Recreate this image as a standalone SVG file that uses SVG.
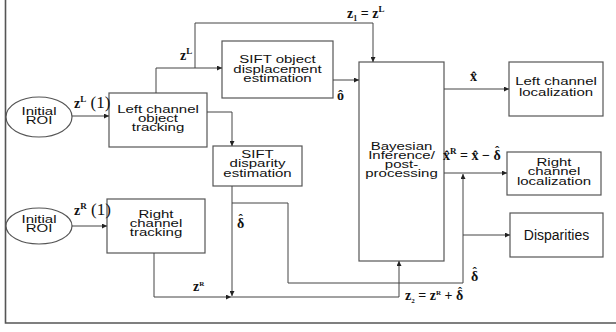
<svg xmlns="http://www.w3.org/2000/svg" width="616" height="332" viewBox="0 0 616 332">
<style>
.box{fill:#fff;stroke:#555;stroke-width:1.2}
.t{font-family:"Liberation Sans",Arial,sans-serif;font-size:15px;fill:#111;text-anchor:middle}
.m{font-family:"Liberation Serif","Times New Roman",serif;font-weight:bold;font-size:14px;fill:#111}
.c{fill:none;stroke:#444;stroke-width:1}
.frame{fill:none;stroke:#555;stroke-width:1.6}
</style>
<defs>
<marker id="a" viewBox="0 0 10 10" refX="10" refY="5" markerWidth="6" markerHeight="5" orient="auto" markerUnits="userSpaceOnUse">
<path d="M0,0 L10,5 L0,10 z" fill="#222"/>
</marker>
</defs>
<rect width="616" height="332" fill="#fff"/>
<path class="frame" d="M5.5,0 V323 H616"/>

<g id="roi1">
<ellipse class="box" cx="39" cy="117" rx="33" ry="20"/>
<text class="t" transform="translate(39,115) scale(1,0.78)"><tspan x="0">Initial</tspan><tspan x="0" dy="12">ROI</tspan></text>
</g>
<g id="roi2">
<ellipse class="box" cx="39" cy="226" rx="33" ry="18"/>
<text class="t" transform="translate(39,223) scale(1,0.78)"><tspan x="0">Initial</tspan><tspan x="0" dy="12">ROI</tspan></text>
</g>
<g id="leftTrack">
<rect class="box" x="109" y="93" width="98" height="54"/>
<text class="t" transform="translate(158,113) scale(1,0.78)"><tspan x="0">Left channel</tspan><tspan x="0" dy="11.8">object</tspan><tspan x="0" dy="11.8">tracking</tspan></text>
</g>
<g id="rightTrack">
<rect class="box" x="107" y="199" width="98" height="54"/>
<text class="t" transform="translate(156,218) scale(1,0.78)"><tspan x="0">Right</tspan><tspan x="0" dy="11.8">channel</tspan><tspan x="0" dy="11.8">tracking</tspan></text>
</g>
<g id="siftObj">
<rect class="box" x="222" y="41" width="111" height="57"/>
<text class="t" transform="translate(277.5,63) scale(1,0.78)"><tspan x="0">SIFT object</tspan><tspan x="0" dy="12.2">displacement</tspan><tspan x="0" dy="12.2">estimation</tspan></text>
</g>
<g id="siftDisp">
<rect class="box" x="213" y="146" width="89" height="40"/>
<text class="t" transform="translate(257.5,158) scale(1,0.78)"><tspan x="0">SIFT</tspan><tspan x="0" dy="11.8">disparity</tspan><tspan x="0" dy="12.4">estimation</tspan></text>
</g>
<g id="bayes">
<rect class="box" x="359" y="62" width="85" height="199"/>
<text class="t" transform="translate(401.5,150) scale(1,0.78)"><tspan x="0">Bayesian</tspan><tspan x="0" dy="11.6">Inference/</tspan><tspan x="0" dy="11.6">post-</tspan><tspan x="0" dy="11.6">processing</tspan></text>
</g>
<g id="leftLoc">
<rect class="box" x="509" y="62" width="94" height="54"/>
<text class="t" transform="translate(556,85) scale(1,0.78)"><tspan x="0">Left channel</tspan><tspan x="0" dy="13.5">localization</tspan></text>
</g>
<g id="rightLoc">
<rect class="box" x="507" y="152" width="94" height="43"/>
<text class="t" transform="translate(554,166) scale(1,0.78)"><tspan x="0">Right</tspan><tspan x="0" dy="11.8">channel</tspan><tspan x="0" dy="12.4">localization</tspan></text>
</g>
<g id="disp">
<rect class="box" x="510" y="213" width="93" height="44"/>
<text class="t" style="font-size:14px" x="556.5" y="240">Disparities</text>
</g>

<g id="connectors">
<path class="c" d="M72,116 H109" marker-end="url(#a)"/>
<path class="c" d="M72,226 H107" marker-end="url(#a)"/>
<path class="c" d="M156,93 V68 H222" marker-end="url(#a)"/>
<path class="c" d="M195,68 V23 H373 V62" marker-end="url(#a)"/>
<path class="c" d="M333,80 H359" marker-end="url(#a)"/>
<path class="c" d="M207,112 H232 V146" marker-end="url(#a)"/>
<path class="c" d="M444,89 H509" marker-end="url(#a)"/>
<path class="c" d="M444,173 H507" marker-end="url(#a)"/>
<path class="c" d="M232,186 V296" marker-end="url(#a)"/>
<path class="c" d="M232,203 H288 V283 H463 V174" marker-end="url(#a)"/>
<path class="c" d="M463,235 H510" marker-end="url(#a)"/>
<path class="c" d="M154,253 V297 H231" marker-end="url(#a)"/>
<path class="c" d="M231,297 H399 V261" marker-end="url(#a)"/>
</g>

<g id="labels">
<text class="m" x="74" y="108">z<tspan font-size="9" dy="-6">L</tspan><tspan dy="6" font-size="17" font-weight="normal"> (1)</tspan></text>
<text class="m" x="74" y="215">z<tspan font-size="9" dy="-6">R</tspan><tspan dy="6" font-size="17" font-weight="normal"> (1)</tspan></text>
<text class="m" x="180" y="60">z<tspan font-size="9" dy="-6">L</tspan></text>
<text class="m" x="347" y="18" font-size="15">z<tspan font-size="8" dy="3">1</tspan><tspan dy="-3"> = z</tspan><tspan font-size="9" dy="-6">L</tspan></text>
<text class="m" x="337" y="100">ô</text>
<text class="m" x="470" y="81">x̂</text>
<text class="m" x="443" y="160">x̂<tspan font-size="9" dy="-6">R</tspan><tspan dy="6"> = x̂ − δ</tspan><tspan font-size="13" dx="-5.7" dy="-5">ˆ</tspan></text>
<text class="m" x="237" y="228">δ<tspan font-size="13" dx="-5.7" dy="-5">ˆ</tspan></text>
<text class="m" x="193" y="291" font-size="12">z<tspan font-size="7" dy="-5">R</tspan></text>
<text class="m" x="471" y="281">δ<tspan font-size="13" dx="-5.7" dy="-5">ˆ</tspan></text>
<text class="m" x="405" y="300" font-size="13">z<tspan font-size="7" dy="3">2</tspan><tspan dy="-3"> = z</tspan><tspan font-size="7" dy="-5">R</tspan><tspan dy="5"> + δ</tspan><tspan font-size="12" dx="-5.3" dy="-4.5">ˆ</tspan></text>
</g>
</svg>
